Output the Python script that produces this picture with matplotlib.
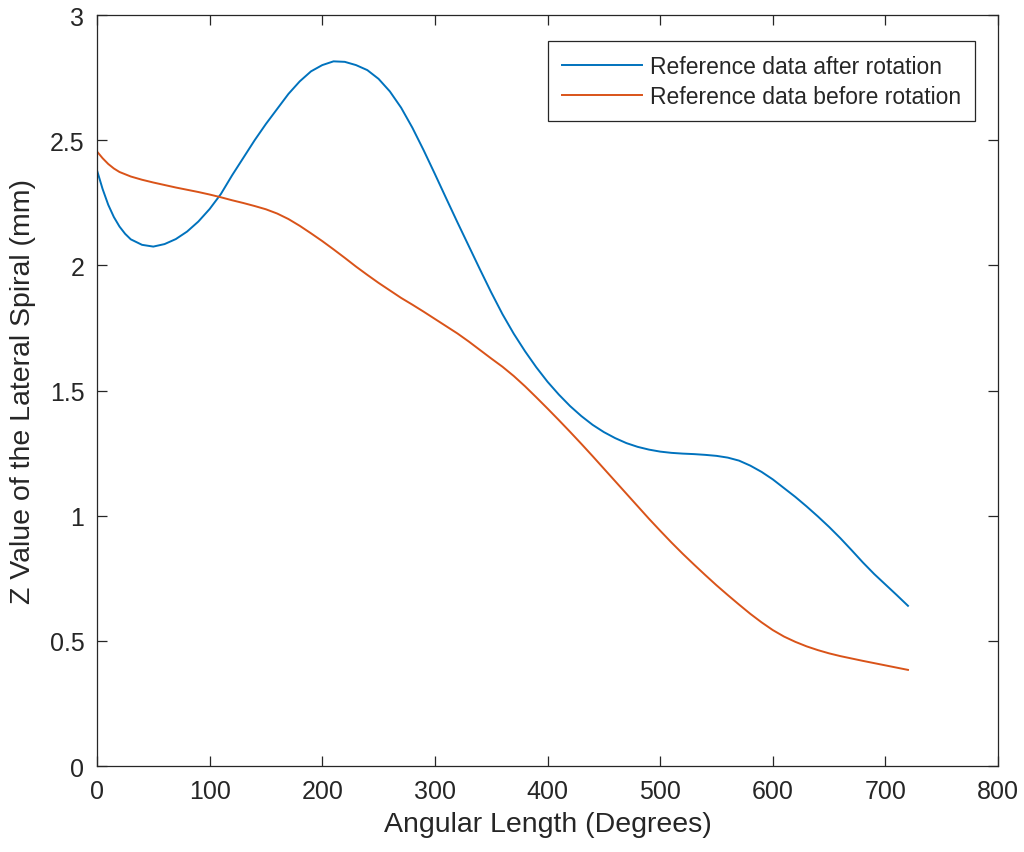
import matplotlib
matplotlib.use("Agg")
import matplotlib.pyplot as plt

plt.rcParams['font.family'] = ['Liberation Sans', 'DejaVu Sans']

# angular length (degrees)
angle_after = [0, 5, 10, 15, 20, 25, 30, 40, 50, 60, 70, 80, 90, 100, 110, 120, 130, 140,
               150, 160, 170, 180, 190, 200, 210, 220, 230, 240, 250, 260, 270, 280,
               290, 300, 310, 320, 330, 340, 350, 360, 370, 380, 390, 400, 410, 420,
               430, 440, 450, 460, 470, 480, 490, 500, 510, 520, 530, 540, 550, 560,
               570, 580, 590, 600, 610, 620, 630, 640, 650, 660, 670, 680, 690, 700,
               710, 720]
z_after = [2.38, 2.305, 2.242, 2.193, 2.155, 2.126, 2.104, 2.082, 2.075, 2.085, 2.105,
           2.135, 2.175, 2.225, 2.285, 2.36, 2.43, 2.50, 2.565, 2.625, 2.685, 2.735,
           2.775, 2.80, 2.815, 2.813, 2.80, 2.78, 2.745, 2.695, 2.63, 2.55, 2.46, 2.365,
           2.268, 2.172, 2.078, 1.984, 1.892, 1.805, 1.727, 1.657, 1.593, 1.535, 1.484,
           1.438, 1.398, 1.363, 1.334, 1.31, 1.29, 1.275, 1.264, 1.256, 1.251, 1.248,
           1.246, 1.243, 1.239, 1.232, 1.22, 1.20, 1.175, 1.145, 1.11, 1.075, 1.037,
           0.997, 0.955, 0.91, 0.862, 0.813, 0.767, 0.725, 0.683, 0.64]

angle_before = [0, 5, 10, 15, 20, 30, 40, 50, 60, 70, 80, 90, 100, 110, 120, 130, 140,
                150, 160, 170, 180, 190, 200, 210, 220, 230, 240, 250, 260, 270, 280,
                290, 300, 310, 320, 330, 340, 350, 360, 370, 380, 390, 400, 410, 420,
                430, 440, 450, 460, 470, 480, 490, 500, 510, 520, 530, 540, 550, 560,
                570, 580, 590, 600, 610, 620, 630, 640, 650, 660, 680, 700, 720]
z_before = [2.455, 2.428, 2.405, 2.387, 2.373, 2.355, 2.342, 2.331, 2.321, 2.311, 2.302,
            2.293, 2.283, 2.272, 2.26, 2.249, 2.237, 2.224, 2.207, 2.185, 2.158, 2.128,
            2.097, 2.064, 2.03, 1.995, 1.962, 1.93, 1.90, 1.87, 1.843, 1.815, 1.786,
            1.757, 1.728, 1.696, 1.662, 1.628, 1.595, 1.558, 1.517, 1.473, 1.428, 1.382,
            1.335, 1.287, 1.238, 1.188, 1.138, 1.088, 1.038, 0.988, 0.94, 0.893, 0.848,
            0.805, 0.763, 0.722, 0.683, 0.645, 0.608, 0.574, 0.543, 0.517, 0.496, 0.478,
            0.463, 0.45, 0.439, 0.42, 0.402, 0.384]

labels = ["Reference data after rotation", "Reference data before rotation"]

fig = plt.figure(figsize=(10.24, 8.53), dpi=100)
ax = fig.add_axes([0.0947, 0.1008, 0.880, 0.8804])

ax.plot(angle_after, z_after, color='#0072BD', lw=1.4, label=labels[0])
ax.plot(angle_before, z_before, color='#D95319', lw=1.4, label=labels[1])

ax.set_xlim(0, 800)
ax.set_ylim(0, 3)
ax.set_xticks(range(0, 801, 100))
ax.set_yticks([0, 0.5, 1, 1.5, 2, 2.5, 3])
ax.set_yticklabels(['0', '0.5', '1', '1.5', '2', '2.5', '3'])

dark = '#262626'
for s in ax.spines.values():
    s.set_color(dark)
    s.set_linewidth(0.9)
ax.tick_params(direction='in', length=7, width=0.9, colors=dark, labelsize=18,
               top=True, right=True, pad=9)

ax.set_xlabel("Angular Length (Degrees)", fontsize=20.5, color=dark, labelpad=6)
ax.set_ylabel("Z Value of the Lateral Spiral (mm)", fontsize=20.5, color=dark, labelpad=10)

leg = ax.legend(loc='upper right', bbox_to_anchor=(0.9745, 0.9654), borderaxespad=0,
                fontsize=16.5, fancybox=False, framealpha=1, handlelength=3.5,
                handletextpad=0.35, borderpad=0.6, labelspacing=0.3)
leg.get_frame().set_edgecolor(dark)
leg.get_frame().set_linewidth(0.9)
for t in leg.get_texts():
    t.set_color(dark)

fig.savefig("out.png", dpi=100)
